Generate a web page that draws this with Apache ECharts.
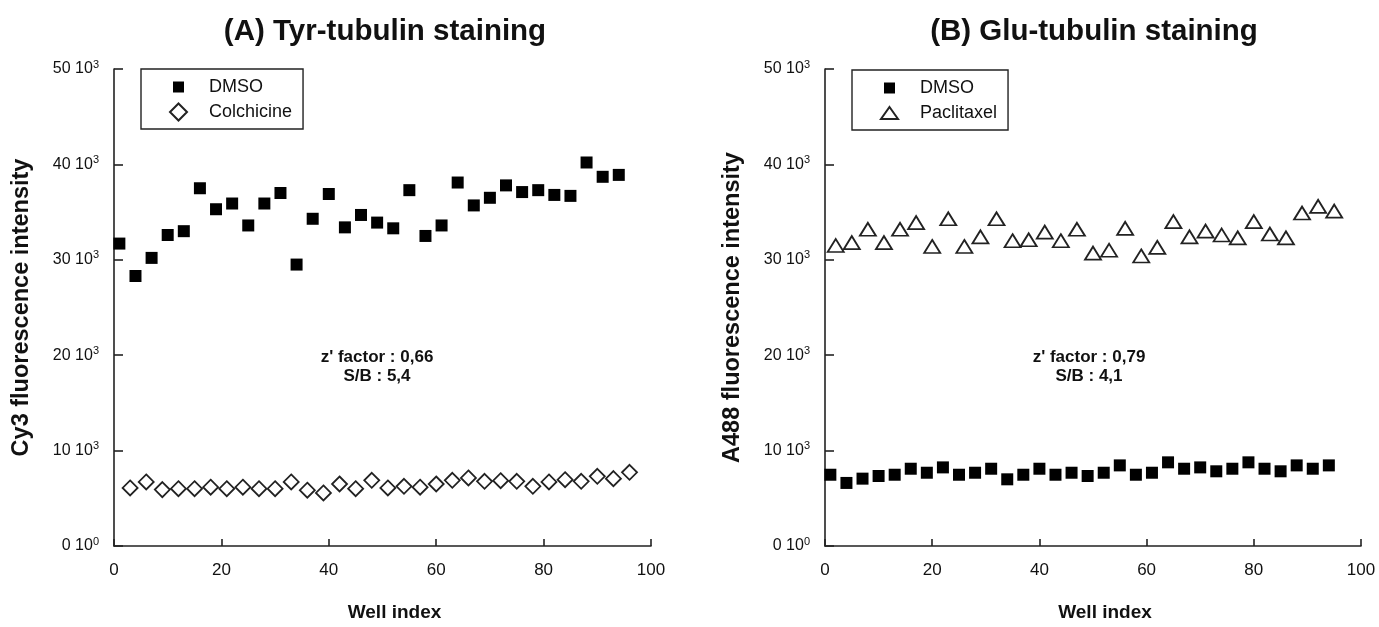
<!DOCTYPE html>
<html>
<head>
<meta charset="utf-8">
<script src="https://cdn.jsdelivr.net/npm/echarts@6/dist/echarts.min.js"></script>
<style>
html,body{margin:0;padding:0;background:#fff;}
#c{width:1379px;height:627px;}
</style>
</head>
<body>
<div id="c"></div>
<script>
// ---- Data ----
const wellsDmsoA = [1,4,7,10,13,16,19,22,25,28,31,34,37,40,43,46,49,52,55,58,61,64,67,70,73,76,79,82,85,88,91,94];
const dmsoA = [31700,28300,30200,32600,33000,37500,35300,35900,33600,35900,37000,29500,34300,36900,33400,34700,33900,33300,37300,32500,33600,38100,35700,36500,37800,37100,37300,36800,36700,40200,38700,38900];
const wellsColchicine = [3,6,9,12,15,18,21,24,27,30,33,36,39,42,45,48,51,54,57,60,63,66,69,72,75,78,81,84,87,90,93,96];
const colchicine = [6090,6710,5910,6010,6010,6160,6010,6160,6010,6010,6710,5850,5560,6500,6010,6890,6090,6260,6160,6500,6890,7130,6780,6850,6780,6260,6710,6950,6780,7310,7060,7720];

const wellsDmsoB = [1,4,7,10,13,16,19,22,25,28,31,34,37,40,43,46,49,52,55,58,61,64,67,70,73,76,79,82,85,88,91,94];
const dmsoB = [7470,6610,7060,7340,7470,8100,7680,8240,7470,7680,8100,6990,7470,8100,7470,7680,7340,7680,8450,7470,7680,8770,8100,8240,7830,8100,8770,8100,7830,8450,8100,8450];
const wellsPaclitaxel = [2,5,8,11,14,17,20,23,26,29,32,35,38,41,44,47,50,53,56,59,62,65,68,71,74,77,80,83,86,89,92,95];
const paclitaxel = [31500,31800,33200,31800,33200,33900,31400,34300,31400,32400,34300,32000,32100,32900,32000,33200,30700,31000,33300,30400,31300,34000,32400,33000,32600,32300,34000,32700,32300,34900,35600,35100];

const titles = ['(A) Tyr-tubulin staining', '(B) Glu-tubulin staining'];
const yNames = ['Cy3 fluorescence intensity', 'A488 fluorescence intensity'];
const xName = 'Well index';
const statsA = ["z' factor : 0,66", 'S/B : 5,4'];
const statsB = ["z' factor : 0,79", 'S/B : 4,1'];

function zip(xs, ys){ return xs.map((x,i)=>[x, ys[i]]); }

const FONT = 'Liberation Sans, Arial, sans-serif';
const INK = '#111';

function yLabel(v){
  if (v === 0) return '{n|0 10}{s|0}';
  return '{n|' + (v/1000) + ' 10}{s|3}';
}

function xAxis(gi){
  return {
    type:'value', gridIndex:gi, min:0, max:100, interval:20,
    axisLine:{show:true, lineStyle:{color:'#222', width:1.6}},
    axisTick:{show:true, inside:true, length:7, lineStyle:{color:'#222', width:1.6}},
    splitLine:{show:false},
    axisLabel:{color:INK, fontFamily:FONT, fontSize:17, margin:16},
    name:xName, nameLocation:'middle', nameGap:57,
    nameTextStyle:{color:INK, fontFamily:FONT, fontSize:19, fontWeight:'bold', padding:[0,0,0,24]}
  };
}
function yAxis(gi, name){
  return {
    type:'value', gridIndex:gi, min:0, max:50000, interval:10000,
    axisLine:{show:true, lineStyle:{color:'#222', width:1.6}},
    axisTick:{show:true, inside:true, length:9, lineStyle:{color:'#222', width:1.6}},
    splitLine:{show:false},
    axisLabel:{
      color:INK, fontFamily:FONT, margin:15, formatter:yLabel,
      rich:{
        n:{fontSize:16, fontFamily:FONT, color:INK, lineHeight:20},
        s:{fontSize:11, fontFamily:FONT, color:INK, verticalAlign:'top', lineHeight:20, padding:[0,0,9,0]}
      }
    },
    name:name, nameLocation:'middle', nameGap:80, nameRotate:90,
    nameTextStyle:{color:INK, fontFamily:FONT, fontSize:23.5, fontWeight:'bold'}
  };
}

const squareStyle = {color:'#000', borderColor:'#000', borderWidth:0, opacity:1};
const hollowStyle = {color:'#fff', borderColor:'#222', borderWidth:1.8, opacity:1};

const iconSquare = 'path://M0,0M3,3L14,3L14,14L3,14ZM17,17';
const iconTriangle = 'path://M0,0M8.5,2.5L17,14.5L0,14.5ZM17,17';

function legendCfg(left, top, names, icons){
  return {
    left:left, top:top, orient:'vertical', selectedMode:false,
    data:[{name:names[0], icon:icons[0]},{name:names[1], icon:icons[1]}],
    itemWidth:17, itemHeight:17, itemGap:5,
    borderColor:'#222', borderWidth:1.4, borderRadius:0, padding:[8,11,7,28],
    textStyle:{fontFamily:FONT, fontSize:18, color:INK, padding:[0,0,0,17], lineHeight:20}
  };
}

const option = {
  backgroundColor:'#fff',
  animation:false,
  title:[
    {text:titles[0], left:380, top:12, textAlign:'center', textStyle:{fontFamily:FONT, fontSize:29.5, fontWeight:'bold', color:INK}},
    {text:titles[1], left:1089, top:12, textAlign:'center', textStyle:{fontFamily:FONT, fontSize:29.5, fontWeight:'bold', color:INK}},
    {text:statsA[0]+'\n'+statsA[1], left:372, top:343, textAlign:'center', textStyle:{fontFamily:FONT, fontSize:17, fontWeight:'bold', color:INK, lineHeight:19, align:'center'}},
    {text:statsB[0]+'\n'+statsB[1], left:1084, top:343, textAlign:'center', textStyle:{fontFamily:FONT, fontSize:17, fontWeight:'bold', color:INK, lineHeight:19, align:'center'}}
  ],
  legend:[
    legendCfg(141, 69, ['DMSO','Colchicine'], [iconSquare,'diamond']),
    legendCfg(852, 70, ['DMSO ','Paclitaxel'], [iconSquare, iconTriangle])
  ],
  grid:[
    {left:114, top:69, width:537, height:479},
    {left:825, top:69, width:536, height:479}
  ],
  xAxis:[xAxis(0), xAxis(1)],
  yAxis:[yAxis(0, yNames[0]), yAxis(1, yNames[1])],
  series:[
    {name:'DMSO', type:'scatter', xAxisIndex:0, yAxisIndex:0, symbol:'rect', symbolSize:12, itemStyle:squareStyle, data:zip(wellsDmsoA, dmsoA)},
    {name:'Colchicine', type:'scatter', xAxisIndex:0, yAxisIndex:0, symbol:'diamond', symbolSize:15, itemStyle:hollowStyle, data:zip(wellsColchicine, colchicine)},
    {name:'DMSO ', type:'scatter', xAxisIndex:1, yAxisIndex:1, symbol:'rect', symbolSize:12, itemStyle:squareStyle, data:zip(wellsDmsoB, dmsoB)},
    {name:'Paclitaxel', type:'scatter', xAxisIndex:1, yAxisIndex:1, symbol:'triangle', symbolSize:[16,13], itemStyle:hollowStyle, data:zip(wellsPaclitaxel, paclitaxel)}
  ]
};

const chart = echarts.init(document.getElementById('c'), null, {renderer:'canvas'});
chart.setOption(option);
</script>
</body>
</html>
